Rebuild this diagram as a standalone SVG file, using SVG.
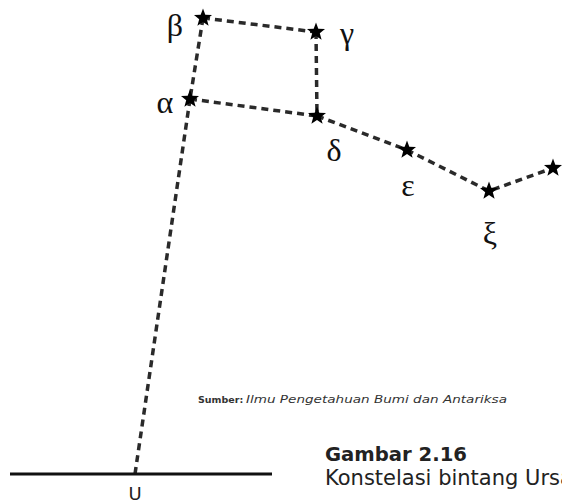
<svg xmlns="http://www.w3.org/2000/svg" xmlns:xlink="http://www.w3.org/1999/xlink" width="562" height="504" viewBox="0 0 562 504">
<defs>
<style>
.c{fill:none;stroke:#2a2a2a;stroke-width:3.5;stroke-dasharray:7 5}
.g{font-family:"Liberation Serif","DejaVu Serif",serif;font-size:32px;fill:#111}
.s{font-family:"DejaVu Sans",Verdana,sans-serif;font-size:9.5px;fill:#333}
.cap{font-family:"DejaVu Sans",Verdana,sans-serif;font-size:19.5px;fill:#222}
</style>
<polygon id="star" points="0,-9.5 2.3,-3.2 9,-2.9 3.8,1.2 5.6,7.7 0,4 -5.6,7.7 -3.8,1.2 -9,-2.9 -2.3,-3.2" fill="#000"/>
</defs>
<rect width="562" height="504" fill="#fff"/>
<g id="connectors">
<path class="c" d="M203,18 L316,32"/>
<path class="c" d="M203,18 L190,99"/>
<path class="c" d="M316,32 L317,116"/>
<path class="c" d="M190,99 L317,116"/>
<path class="c" d="M317,116 L407,150 L489,191 L553,168"/>
<path class="c" d="M190,99 L135,474"/>
</g>
<g id="ground"><line x1="10" y1="474" x2="272" y2="474" stroke="#111" stroke-width="3"/>
<text x="135" y="500" text-anchor="middle" font-family="DejaVu Sans,sans-serif" font-size="18" fill="#222">U</text></g>
<g id="beta"><use xlink:href="#star" x="203" y="18"/><text class="g" x="175" y="36" text-anchor="middle">β</text></g>
<g id="gamma"><use xlink:href="#star" x="316" y="32"/><text class="g" x="347" y="44" text-anchor="middle">γ</text></g>
<g id="alpha"><use xlink:href="#star" x="190" y="99"/><text class="g" x="165" y="113" text-anchor="middle">α</text></g>
<g id="delta"><use xlink:href="#star" x="317" y="116"/><text class="g" x="334" y="161" text-anchor="middle">δ</text></g>
<g id="epsilon"><use xlink:href="#star" x="407" y="150"/><text class="g" x="408" y="196" text-anchor="middle">ε</text></g>
<g id="xi"><use xlink:href="#star" x="489" y="191"/><text class="g" x="490" y="244" text-anchor="middle">ξ</text></g>
<g id="eta"><use xlink:href="#star" x="553" y="168"/></g>
<g id="caption">
<text class="s" x="198" y="403" font-weight="bold">Sumber:</text>
<text class="s" x="246" y="403" font-style="italic" style="font-size:10.5px" textLength="261" lengthAdjust="spacingAndGlyphs">Ilmu Pengetahuan Bumi dan Antariksa</text>
<text class="cap" x="325" y="461" font-weight="bold" textLength="142" lengthAdjust="spacingAndGlyphs">Gambar 2.16</text>
<text class="cap" x="325" y="485" style="font-size:21px">Konstelasi bintang Ursa</text>
</g>
</svg>
